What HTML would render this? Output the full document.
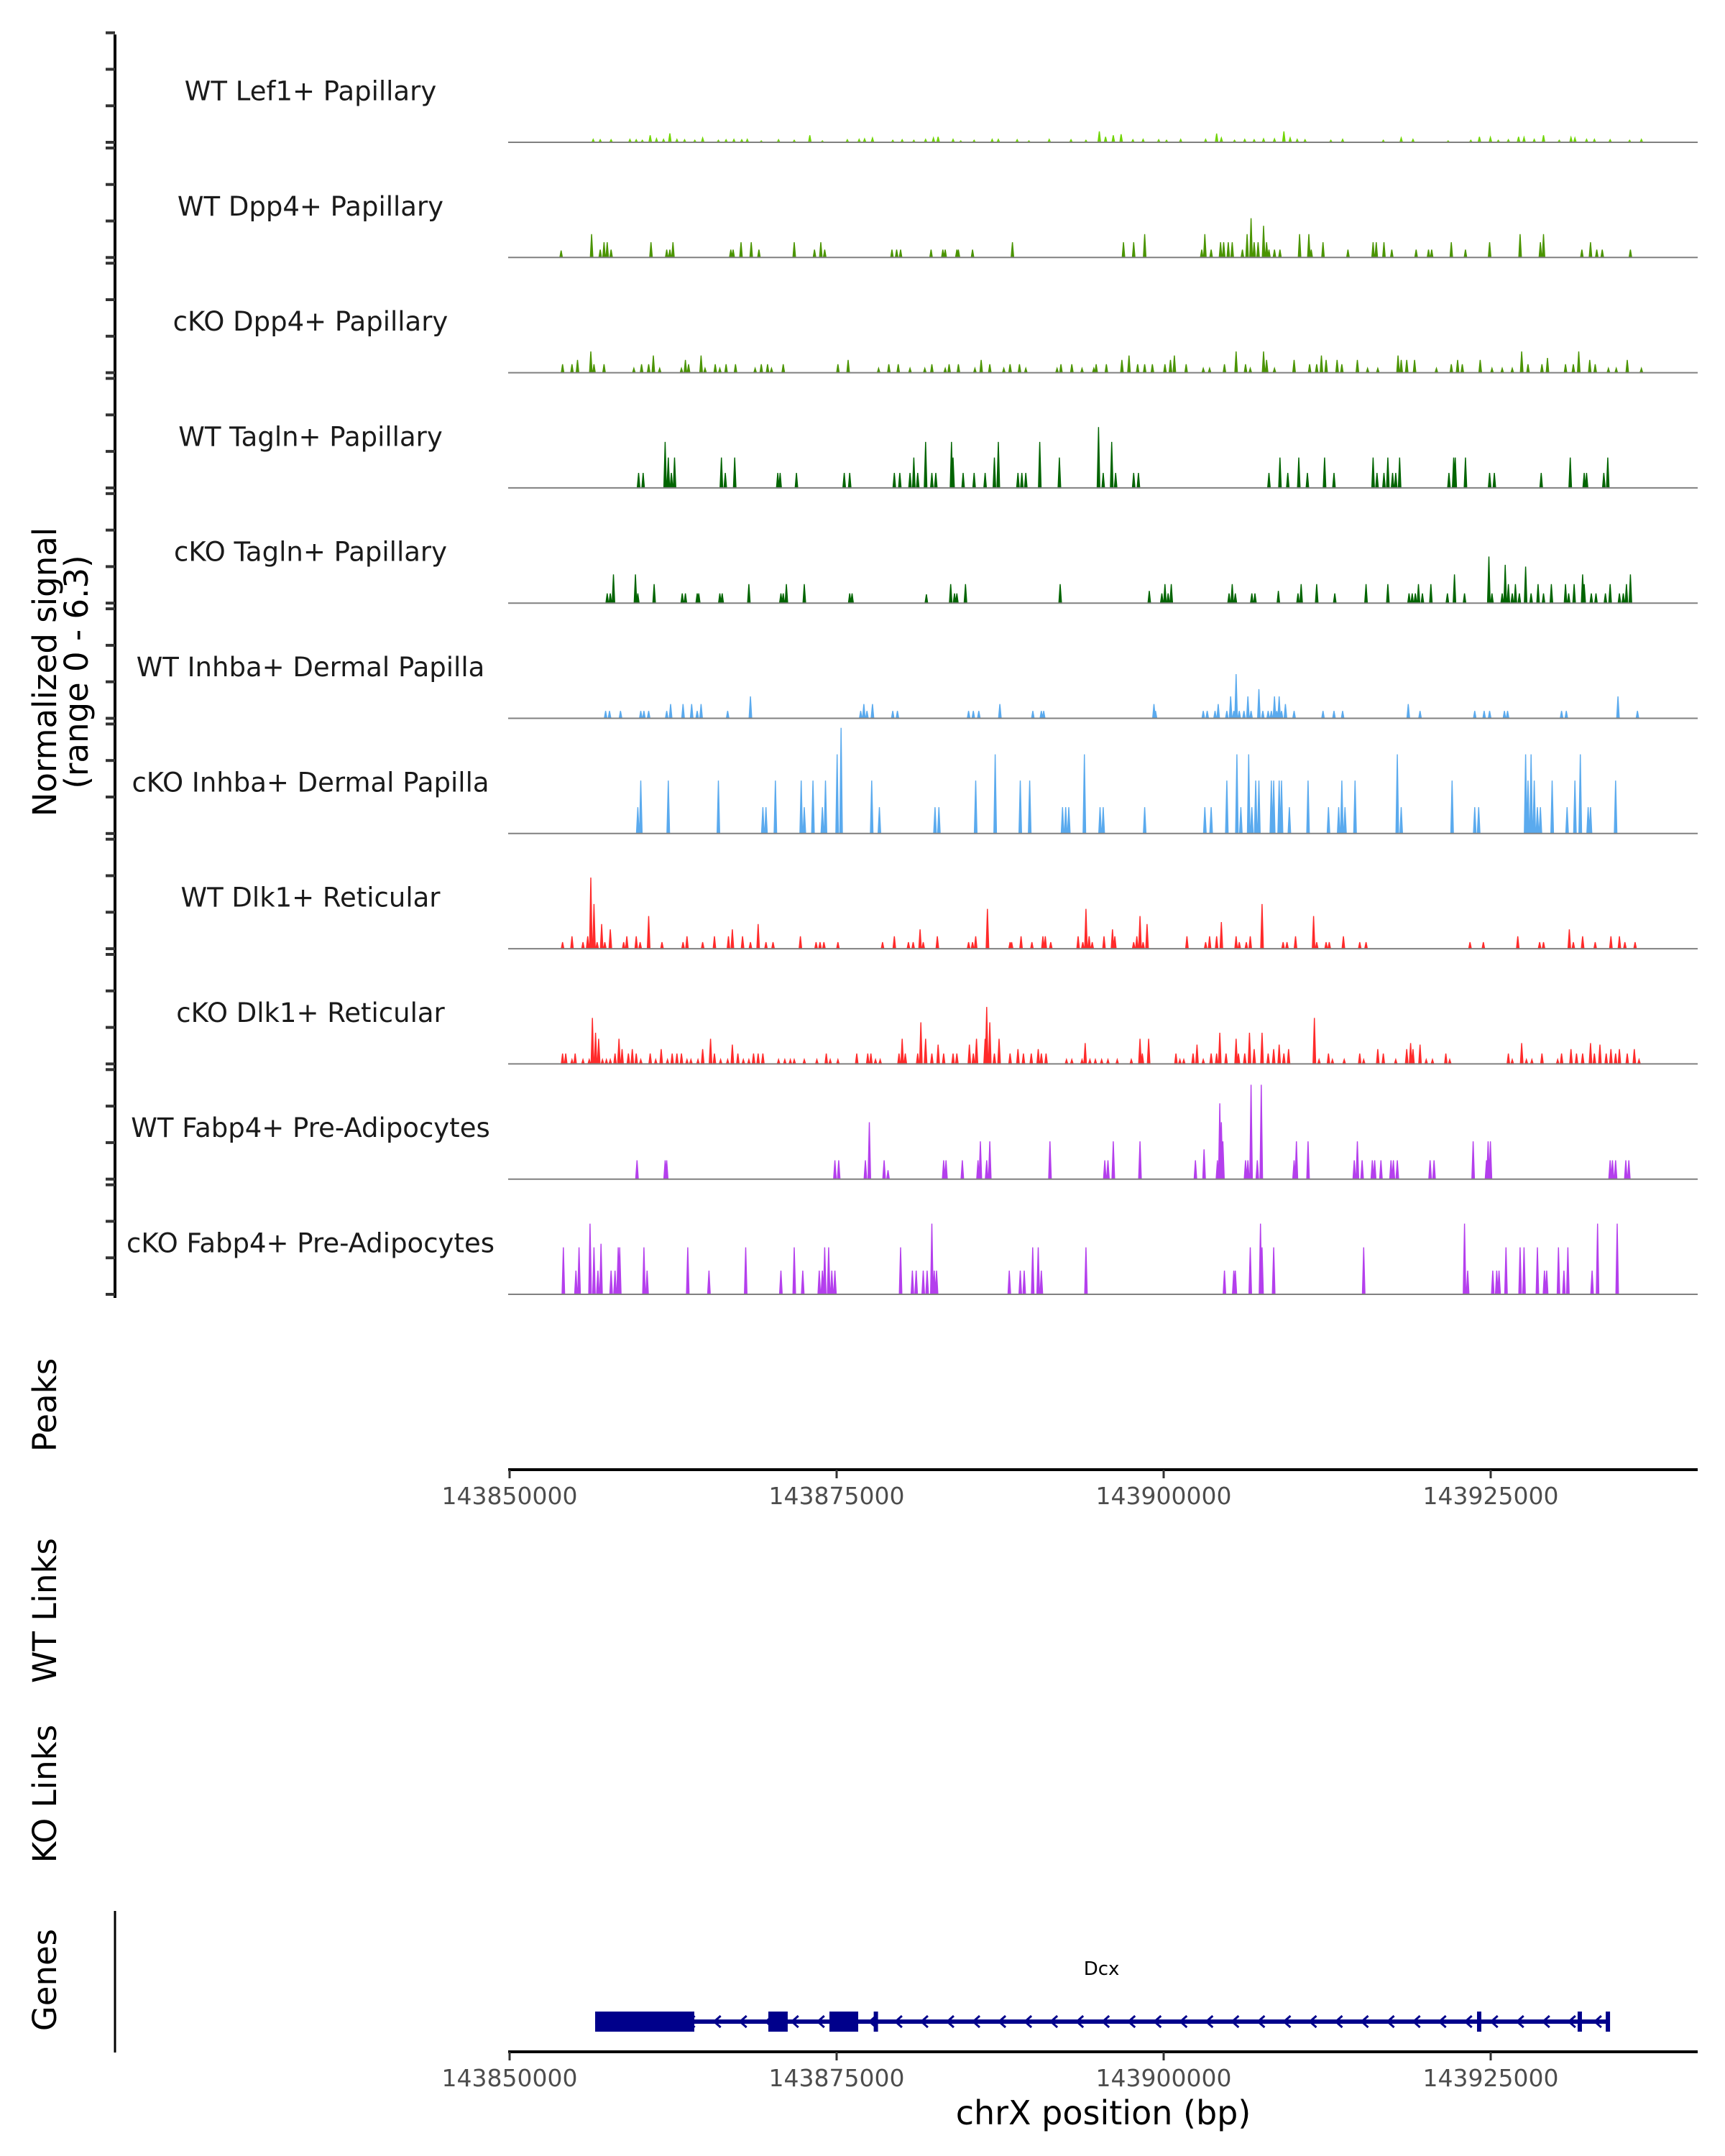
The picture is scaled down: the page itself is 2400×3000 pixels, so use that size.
<!DOCTYPE html>
<html><head><meta charset="utf-8"><style>
html,body{margin:0;padding:0;background:#fff;}
svg{display:block;font-family:"DejaVu Sans","Liberation Sans",sans-serif;}
</style></head><body>
<svg id="chart" width="2400" height="3000" viewBox="0 0 2400 3000" xmlns="http://www.w3.org/2000/svg">
<rect width="2400" height="3000" fill="#fff"/>
<g id="tracks"></g>
<line x1="160" y1="48" x2="160" y2="1806" stroke="#000" stroke-width="4"/>
<g id="yticks"></g>
<text transform="translate(78,935) rotate(-90)" text-anchor="middle" font-size="45" fill="#000">Normalized signal</text>
<text transform="translate(122,935) rotate(-90)" text-anchor="middle" font-size="45" fill="#000">(range 0 - 6.3)</text>
<text transform="translate(78,1955) rotate(-90)" text-anchor="middle" font-size="45" fill="#000">Peaks</text>
<text transform="translate(78,2241) rotate(-90)" text-anchor="middle" font-size="45" fill="#000">WT Links</text>
<text transform="translate(78,2496) rotate(-90)" text-anchor="middle" font-size="45" fill="#000">KO Links</text>
<text transform="translate(78,2755) rotate(-90)" text-anchor="middle" font-size="45" fill="#000">Genes</text>
<line x1="160" y1="2659" x2="160" y2="2856" stroke="#000" stroke-width="3"/>
<g id="axis1"></g>
<g id="gene"></g>
<g id="axis2"></g>
<text x="1535" y="2956" text-anchor="middle" font-size="46" fill="#000">chrX position (bp)</text>
</svg>
<script>
// ---- data (positions in kb offset from 143850000; values normalized signal) ----
const regionStart = 143850000;
const xTicks = [143850000, 143875000, 143900000, 143925000];
const yTickValues = [0, 2, 4, 6];
const trackNames = ["WT Lef1+ Papillary","WT Dpp4+ Papillary","cKO Dpp4+ Papillary","WT Tagln+ Papillary","cKO Tagln+ Papillary","WT Inhba+ Dermal Papilla","cKO Inhba+ Dermal Papilla","WT Dlk1+ Reticular","cKO Dlk1+ Reticular","WT Fabp4+ Pre-Adipocytes","cKO Fabp4+ Pre-Adipocytes"];
const trackColors = ["#6fd400","#4a9400","#4a9400","#006400","#006400","#5aaaee","#5aaaee","#ff2a2a","#ff2a2a","#b43fed","#b43fed"];

const pos0 = [6.39,6.93,7.76,9.2,9.68,10.15,10.75,11.23,11.77,12.25,12.79,13.38,14.16,14.76,15.96,16.55,17.15,17.75,18.17,19.24,20.56,21.76,22.95,23.91,25.82,26.72,27.14,27.74,29.29,30.01,30.9,31.8,32.4,32.76,33.9,34.49,35.51,36.89,37.36,38.8,39.7,41.25,42.92,44.06,45.08,45.56,46.15,46.75,47.65,48.43,49.62,50.22,51.3,53.21,54.05,54.41,55.42,56.2,56.92,57.64,58.47,59.19,59.67,60.21,60.81,62.78,63.68,66.79,68.16,69.06,71.75,73.48,74.14,74.98,75.58,76.35,77.13,77.55,78.33,79.04,80.24,81.14,81.44,82.33,82.93,84.13,85.62,86.52];
const val0 = [0.16,0.14,0.14,0.16,0.14,0.11,0.38,0.2,0.16,0.49,0.16,0.14,0.11,0.24,0.11,0.14,0.16,0.14,0.16,0.08,0.14,0.11,0.38,0.08,0.14,0.16,0.19,0.24,0.11,0.14,0.11,0.16,0.24,0.3,0.16,0.08,0.11,0.16,0.16,0.14,0.08,0.16,0.14,0.11,0.6,0.3,0.38,0.44,0.14,0.16,0.14,0.11,0.16,0.16,0.48,0.24,0.11,0.16,0.14,0.19,0.19,0.6,0.24,0.16,0.14,0.11,0.16,0.11,0.24,0.16,0.08,0.11,0.3,0.27,0.11,0.14,0.3,0.27,0.16,0.38,0.11,0.27,0.24,0.16,0.16,0.14,0.11,0.16];

const pos1 = [3.94,6.27,6.93,7.22,7.46,7.76,10.81,12.01,12.25,12.49,16.91,17.09,17.69,18.47,19.06,21.76,23.31,23.79,24.09,29.23,29.59,29.89,32.22,33.12,33.3,34.19,34.31,35.39,38.44,46.93,47.71,48.55,52.91,53.15,53.63,54.35,54.59,54.94,55.24,56.02,56.38,56.68,56.92,57.22,57.64,57.87,58.05,58.47,58.89,60.39,61.1,61.28,62.18,64.09,66.01,66.25,66.84,67.44,69.3,70.25,70.49,71.99,73.07,74.92,77.25,78.8,79.04,81.97,82.63,83.11,83.53,85.68];
const val1 = [0.38,1.28,0.43,0.84,0.84,0.43,0.84,0.43,0.43,0.84,0.43,0.43,0.84,0.84,0.43,0.84,0.43,0.84,0.43,0.43,0.43,0.43,0.43,0.43,0.43,0.43,0.43,0.43,0.84,0.84,0.84,1.28,0.43,1.28,0.43,0.84,0.84,0.84,0.84,0.43,1.28,2.15,0.84,0.84,1.74,0.84,0.43,0.43,0.43,1.28,1.28,0.43,0.84,0.43,0.84,0.84,0.84,0.43,0.43,0.43,0.43,0.84,0.43,0.84,1.28,0.84,1.28,0.43,0.84,0.43,0.43,0.43];

const pos2 = [4.05,4.77,5.19,6.21,6.45,7.22,9.5,10.09,10.63,10.99,11.47,13.14,13.44,13.68,14.64,14.94,15.72,16.07,16.55,17.27,18.77,19.24,19.72,20.02,20.92,25.1,25.88,28.21,28.99,29.71,30.61,31.74,32.28,33.3,33.6,34.31,35.57,36.05,36.71,37.78,38.26,38.98,39.46,41.85,42.15,42.98,43.76,44.66,44.84,45.62,46.81,47.35,48.01,48.55,49.14,50.1,50.52,50.82,51.72,53.03,53.51,54.65,55.54,56.26,56.62,57.64,57.87,58.47,59.97,61.16,61.7,62.06,62.42,63.26,63.62,64.81,65.59,66.37,67.92,68.16,68.58,69.18,70.85,71.99,72.47,72.83,74.2,75.1,75.88,76.65,77.37,77.85,78.92,79.34,80.72,81.32,81.73,82.57,82.99,84.0,84.6,85.44,86.52];
const val2 = [0.46,0.46,0.7,1.16,0.46,0.46,0.24,0.46,0.46,0.94,0.24,0.24,0.7,0.46,0.94,0.24,0.46,0.24,0.46,0.46,0.24,0.46,0.46,0.24,0.46,0.46,0.7,0.24,0.46,0.46,0.24,0.24,0.46,0.24,0.46,0.46,0.24,0.7,0.46,0.24,0.46,0.46,0.24,0.24,0.46,0.46,0.24,0.24,0.46,0.46,0.7,0.94,0.46,0.46,0.46,0.46,0.7,0.94,0.46,0.24,0.24,0.46,1.16,0.46,0.24,1.16,0.7,0.24,0.7,0.46,0.46,0.94,0.7,0.7,0.46,0.7,0.24,0.24,0.94,0.7,0.7,0.7,0.24,0.46,0.7,0.46,0.7,0.24,0.24,0.24,1.16,0.46,0.46,0.81,0.46,0.46,1.16,0.7,0.46,0.24,0.24,0.7,0.24];

const pos3 = [9.86,10.21,11.89,12.13,12.37,12.61,16.19,16.49,17.21,20.5,20.68,21.93,25.58,26.0,29.41,29.83,30.61,30.9,31.2,31.8,32.28,32.58,33.78,33.9,34.67,35.51,36.35,37.06,37.36,38.86,39.16,39.46,40.53,42.03,45.02,45.38,46.03,46.33,47.71,48.07,58.05,58.89,59.49,60.33,60.99,62.3,63.02,66.01,66.31,66.84,67.14,67.5,67.74,68.04,71.81,72.17,72.29,73.07,74.92,75.28,78.86,81.08,82.15,82.33,83.65,83.95];
const val3 = [0.82,0.82,2.52,1.66,0.82,1.66,1.66,0.82,1.66,0.82,0.82,0.82,0.82,0.82,0.82,0.82,0.82,1.66,0.82,2.52,0.82,0.82,2.52,1.66,0.82,0.82,0.82,1.66,2.52,0.82,0.82,0.82,2.52,1.66,3.33,0.82,2.52,0.82,0.82,0.82,0.82,1.66,0.82,1.66,0.82,1.66,0.82,1.66,0.82,0.82,1.66,0.82,0.82,1.66,0.82,1.66,1.66,1.66,0.82,0.82,0.82,1.66,0.82,0.82,0.82,1.66];

const pos4 = [7.46,7.7,7.94,9.62,9.8,11.05,13.2,13.44,14.34,14.46,16.07,16.25,18.29,20.74,20.92,21.16,22.53,26.0,26.18,31.86,33.72,34.01,34.19,34.85,42.09,48.9,49.86,50.1,50.34,50.58,55.0,55.24,55.48,56.74,56.98,58.77,60.27,60.51,61.7,63.08,65.47,67.14,68.76,69.0,69.24,69.48,69.78,70.43,71.69,72.23,73.0,74.86,75.1,75.88,76.11,76.35,76.65,76.89,77.19,77.67,78.09,78.62,79.04,79.64,80.72,80.96,81.38,82.03,82.15,82.69,83.05,83.77,84.13,84.84,85.14,85.38,85.68];
const val4 = [0.53,0.53,1.57,1.57,0.53,1.04,0.53,0.53,0.53,0.53,0.53,0.53,1.04,0.53,0.53,1.04,1.04,0.53,0.53,0.48,1.04,0.53,0.53,1.04,1.04,0.67,0.53,1.04,0.53,1.04,0.53,1.04,0.53,0.53,0.53,0.67,0.53,1.04,1.04,0.53,1.04,1.04,0.53,0.53,0.53,1.04,0.53,1.04,0.53,1.57,0.53,2.55,0.53,0.53,2.1,1.04,0.53,1.04,0.53,2.0,0.53,1.04,0.53,1.04,1.04,0.53,1.04,1.57,1.04,0.53,0.53,0.53,1.04,0.53,0.53,1.04,1.57];

const pos5 = [7.34,7.64,8.48,10.03,10.27,10.63,12.01,12.31,13.26,13.92,14.34,14.64,16.67,18.41,26.84,27.08,27.32,27.74,29.29,29.65,35.09,35.45,35.87,37.48,40.0,40.65,40.83,49.26,49.38,53.03,53.33,53.93,54.17,54.83,55.12,55.36,55.54,55.78,56.14,56.44,56.68,57.28,57.58,57.99,58.23,58.47,58.65,58.83,59.01,59.31,59.97,62.18,63.02,63.68,68.7,69.6,73.78,74.5,74.92,76.05,76.29,80.42,80.78,84.73,86.22];
const val5 = [0.4,0.4,0.4,0.4,0.4,0.4,0.4,0.78,0.78,0.78,0.4,0.78,0.4,1.2,0.4,0.78,0.4,0.78,0.4,0.4,0.4,0.4,0.4,0.78,0.4,0.4,0.4,0.78,0.4,0.4,0.4,0.4,0.78,0.4,1.2,0.4,2.42,0.4,0.4,1.2,0.4,1.6,0.4,0.4,0.4,1.2,0.4,1.2,0.4,0.78,0.4,0.4,0.4,0.4,0.78,0.4,0.4,0.4,0.4,0.4,0.4,0.4,0.4,1.2,0.4];

const pos6 = [9.8,10.03,12.13,15.96,19.36,19.6,20.32,22.29,22.53,23.19,23.91,24.15,25.04,25.34,27.68,28.27,32.52,32.82,35.63,37.12,39.04,39.76,42.27,42.51,42.75,43.94,45.14,45.38,48.55,53.15,53.63,54.83,55.6,55.9,56.5,56.74,57.04,57.28,58.23,58.41,58.83,59.01,59.61,61.04,62.6,63.38,63.62,63.86,64.63,67.86,68.16,72.05,73.78,74.08,77.67,77.85,78.09,78.33,78.57,78.8,79.7,80.84,81.44,81.85,82.45,82.63,84.55];
const val6 = [1.44,2.9,2.9,2.9,1.44,1.44,2.9,2.9,1.44,2.9,1.44,2.9,4.34,5.79,2.9,1.44,1.44,1.44,2.9,4.34,2.9,2.9,1.44,1.44,1.44,4.34,1.44,1.44,1.44,1.44,1.44,2.9,4.34,1.44,4.34,1.44,2.9,2.9,2.9,2.9,2.9,2.9,1.44,2.9,1.44,1.44,2.9,1.44,2.9,4.34,1.44,2.9,1.44,1.44,4.34,2.9,4.34,2.9,1.44,1.44,2.9,1.44,2.9,4.34,1.44,1.44,2.9];

const pos7 = [4.05,4.77,5.61,5.97,6.21,6.45,6.69,7.04,7.28,7.7,8.72,8.96,9.68,9.98,10.63,11.65,13.26,13.56,14.76,15.66,16.73,17.03,17.81,18.41,19.0,19.6,20.14,22.23,23.43,23.73,24.03,25.1,28.51,29.41,30.49,30.85,31.38,31.62,32.7,35.09,35.39,35.63,36.53,38.26,38.38,39.1,39.93,40.77,40.95,41.37,43.46,43.82,44.06,44.3,44.54,45.44,46.09,46.27,47.71,47.95,48.19,48.43,48.73,51.78,53.21,53.51,54.05,54.41,55.54,55.78,56.32,56.62,57.52,59.13,59.43,60.08,61.46,61.7,62.42,62.66,63.74,64.99,65.47,73.42,74.44,77.07,78.74,79.04,81.01,81.32,82.03,82.99,84.19,84.84,85.26,86.04];
const val7 = [0.36,0.68,0.36,0.68,3.9,2.45,0.36,1.35,0.36,1.06,0.36,0.68,0.68,0.36,1.79,0.36,0.36,0.68,0.36,0.68,0.68,1.06,0.68,0.36,1.35,0.36,0.36,0.68,0.36,0.36,0.36,0.36,0.36,0.68,0.36,0.36,1.06,0.36,0.68,0.36,0.36,0.68,2.18,0.36,0.36,0.68,0.36,0.68,0.68,0.36,0.68,0.36,2.18,0.68,0.36,0.68,1.06,0.68,0.36,0.68,1.79,0.36,1.35,0.68,0.36,0.68,0.68,1.46,0.68,0.36,0.36,0.68,2.45,0.36,0.36,0.68,1.79,0.36,0.36,0.36,0.68,0.36,0.36,0.36,0.36,0.68,0.36,0.36,1.06,0.36,0.68,0.36,0.68,0.68,0.36,0.36];

const pos8 = [4.05,4.29,4.77,5.01,5.61,6.09,6.33,6.57,6.81,7.1,7.4,7.7,8.06,8.36,8.6,9.08,9.38,9.68,10.03,10.75,11.17,11.59,12.07,12.43,12.79,13.14,13.56,13.86,14.4,14.76,15.36,15.66,16.13,16.67,17.03,17.45,17.87,18.29,18.65,19.0,19.36,20.56,21.04,21.46,21.76,22.53,23.49,24.21,24.51,25.1,26.54,27.38,27.62,27.97,28.33,29.77,30.01,30.25,31.2,31.44,31.8,32.28,32.76,33.18,33.9,34.19,35.15,35.45,35.69,36.35,36.47,36.71,37.06,37.42,38.26,38.86,39.28,39.88,40.41,40.65,41.01,42.57,42.98,43.76,44.0,44.36,44.78,45.26,45.74,46.45,47.53,48.19,48.37,48.85,50.94,51.24,51.54,52.25,52.55,53.03,53.63,54.05,54.29,54.77,55.54,55.72,56.2,56.56,56.92,57.52,57.99,58.41,58.83,59.19,59.55,61.52,61.88,62.6,62.9,63.8,64.99,65.29,66.37,66.79,67.74,68.58,68.88,69.06,69.6,70.07,70.55,71.57,71.87,76.35,76.65,77.37,77.73,78.15,78.92,80.12,80.42,81.14,81.56,82.03,82.63,82.93,83.35,83.83,84.19,84.55,84.84,85.44,85.98,86.34];
const val8 = [0.57,0.57,0.24,0.57,0.24,0.24,2.52,1.71,1.38,0.24,0.24,0.24,0.57,1.38,0.81,0.57,0.81,0.57,0.24,0.57,0.24,0.81,0.24,0.57,0.57,0.57,0.24,0.24,0.24,0.81,1.38,0.57,0.24,0.24,1.06,0.57,0.24,0.24,0.57,0.57,0.57,0.24,0.24,0.24,0.24,0.24,0.24,0.57,0.24,0.24,0.57,0.57,0.57,0.24,0.24,0.57,1.38,0.57,0.57,2.28,1.38,0.57,1.06,0.57,0.57,0.57,1.06,0.57,1.38,1.38,3.12,2.28,0.57,1.38,0.57,0.81,0.57,0.57,0.81,0.57,0.57,0.24,0.24,0.24,1.14,0.24,0.24,0.24,0.24,0.24,0.24,1.38,0.57,1.38,0.57,0.24,0.24,0.57,1.06,0.24,0.57,0.57,1.71,0.57,1.38,0.57,0.57,1.71,0.81,1.71,0.57,0.81,1.06,0.57,0.81,2.52,0.24,0.57,0.24,0.24,0.57,0.24,0.81,0.57,0.24,0.81,1.14,0.81,1.06,0.24,0.24,0.57,0.24,0.57,0.24,1.14,0.24,0.24,0.57,0.24,0.57,0.81,0.57,0.57,1.14,0.57,1.06,0.57,0.81,0.57,0.81,0.57,0.81,0.24];

const pos9 = [9.74,11.89,12.01,24.87,25.16,27.2,27.5,28.63,28.93,33.18,33.36,34.61,35.81,35.99,36.47,36.71,41.31,45.5,45.74,46.15,48.19,52.43,53.09,54.11,54.29,54.41,54.53,56.26,56.44,56.68,57.16,57.46,59.97,60.15,61.04,64.57,64.81,65.17,65.95,66.13,66.61,67.38,67.56,67.86,70.37,70.67,73.66,74.68,74.8,74.98,84.13,84.31,84.55,85.33,85.56];
const val9 = [1.03,1.03,1.03,1.03,1.03,1.03,3.12,1.03,0.49,1.03,1.03,1.03,1.03,2.07,1.03,2.07,2.07,1.03,1.03,2.07,2.07,1.03,1.63,1.03,4.15,3.12,2.07,1.03,1.03,5.17,1.03,5.17,1.03,2.07,2.07,1.03,2.07,1.03,1.03,1.03,1.03,1.03,1.03,1.03,1.03,1.03,2.07,1.03,2.07,2.07,1.03,1.03,1.03,1.03,1.03];

const pos10 = [4.11,5.07,5.31,6.15,6.45,6.75,6.99,7.76,8.06,8.3,8.42,10.27,10.51,13.62,15.24,18.05,20.74,21.76,22.41,23.67,23.91,24.09,24.39,24.63,24.87,29.89,30.79,31.08,31.62,31.92,32.28,32.46,32.64,38.2,39.04,39.34,39.99,40.41,40.65,44.06,54.65,55.36,55.48,56.62,57.4,57.52,58.41,65.29,73.0,73.24,75.16,75.46,75.64,76.17,77.25,77.55,78.57,79.11,79.28,80.18,80.6,80.9,82.75,83.17,84.67];
const val10 = [2.57,1.3,2.57,3.87,2.57,1.3,2.77,1.3,1.3,2.57,2.57,2.57,1.3,2.57,1.3,2.57,1.3,2.57,1.3,1.3,1.3,2.57,2.57,1.3,1.3,2.57,1.3,1.3,1.3,1.3,3.87,1.3,1.3,1.3,1.3,1.3,2.57,2.57,1.3,2.57,1.3,1.3,1.3,2.57,3.87,2.57,2.57,2.57,3.87,1.3,1.3,1.3,1.3,2.57,2.57,2.57,2.57,1.3,1.3,2.57,1.3,2.57,1.3,3.87,3.87];

const trackPos = [pos0,pos1,pos2,pos3,pos4,pos5,pos6,pos7,pos8,pos9,pos10];
const trackVal = [val0,val1,val2,val3,val4,val5,val6,val7,val8,val9,val10];

// gene model (kb offsets)
const geneName = "Dcx";
const geneStartKb = 6.54;
const geneEndKb = 83.96;
const exonStarts = [6.54, 19.78, 24.45];
const exonEnds = [14.12, 21.26, 26.65];
const smallExons = [28.0, 74.12, 81.81, 83.96];

// ---- scales ----
const NS = "http://www.w3.org/2000/svg";
const X0 = 709, PX_PER_KB = 18.2;
function xs(kb){ return X0 + kb * PX_PER_KB; }
function xbp(bp){ return xs((bp - regionStart) / 1000); }
const TRACK_TOP_BASE = 198, TRACK_STEP = 160.3, PX_PER_UNIT = 160 / 6.3;
function baseY(i){ return TRACK_TOP_BASE + i * TRACK_STEP; }
function ys(i, v){ return baseY(i) - v * PX_PER_UNIT; }
function mk(tag, attrs, parent){ const e = document.createElementNS(NS, tag); for (const k in attrs) e.setAttribute(k, attrs[k]); parent.appendChild(e); return e; }

const tracksG = document.getElementById('tracks');
const yticksG = document.getElementById('yticks');
const HW = 0.1;
trackNames.forEach((name, i) => {
  const g = mk('g', {}, tracksG);
  
  
  const b = baseY(i);
  const lbl = mk('text', {x: 432, y: b - 71, 'text-anchor': 'middle', 'dominant-baseline': 'central', 'font-size': 37, fill: '#1a1a1a'}, g);
  
  
  lbl.textContent = name;
  const ps = trackPos[i], vs = trackVal[i];
  let d = '';
  ps.forEach((p, j) => {
    d += 'M' + xs(p - HW).toFixed(1) + ',' + b + 'L' + xs(p).toFixed(1) + ',' + ys(i, vs[j]).toFixed(1) + 'L' + xs(p + HW).toFixed(1) + ',' + b + 'Z';
  });
  const path = mk('path', {d: d, fill: trackColors[i], stroke: trackColors[i], 'stroke-width': 1.4}, g);
  
  
  const bl = mk('line', {x1: 707, x2: 2362, y1: b, y2: b, stroke: '#808080', 'stroke-width': 2}, g);
  
  
  yTickValues.forEach(t => {
    const tk = mk('line', {x1: 147, x2: 160, y1: ys(i, t), y2: ys(i, t), stroke: '#333', 'stroke-width': 4}, yticksG);
    
    
  });
});

function drawAxis(gid, y){
  const g = document.getElementById(gid);
  const ln = mk('line', {x1: 707, x2: 2362, y1: y, y2: y, stroke: '#000', 'stroke-width': 4}, g);
  
  
  xTicks.forEach(t => {
    const x = xbp(t);
    const tk = mk('line', {x1: x, x2: x, y1: y, y2: y + 12, stroke: '#333', 'stroke-width': 3}, g);
    
    
    const tl = mk('text', {x: x, y: y + 48, 'text-anchor': 'middle', 'font-size': 33, fill: '#4d4d4d'}, g);
    
    
    tl.textContent = String(t);
  });
}
drawAxis('axis1', 2045);
drawAxis('axis2', 2855);

// gene
const gg = document.getElementById('gene');
const GY = 2813;
const gl = mk('line', {x1: xs(geneStartKb), x2: xs(geneEndKb), y1: GY, y2: GY, stroke: '#00008b', 'stroke-width': 6}, gg);


for (let kb = geneStartKb + 1.4; kb < geneEndKb - 0.5; kb += 1.98) {
  const x = xs(kb);
  const ch = mk('path', {d: 'M' + (x + 5) + ',' + (GY - 8) + 'L' + (x - 4) + ',' + GY + 'L' + (x + 5) + ',' + (GY + 8), fill: 'none', stroke: '#00008b', 'stroke-width': 3}, gg);
  
  
}
exonStarts.forEach((s, k) => {
  const r = mk('rect', {x: xs(s), y: GY - 14, width: xs(exonEnds[k]) - xs(s), height: 28, fill: '#00008b'}, gg);
  
  
});
smallExons.forEach(s => {
  const r = mk('rect', {x: xs(s) - 3, y: GY - 14, width: 6, height: 28, fill: '#00008b'}, gg);
  
  
});
const gn = mk('text', {x: xs((geneStartKb + geneEndKb) / 2), y: 2748, 'text-anchor': 'middle', 'font-size': 26, fill: '#000'}, gg);


gn.textContent = geneName;
</script>
</body></html>
